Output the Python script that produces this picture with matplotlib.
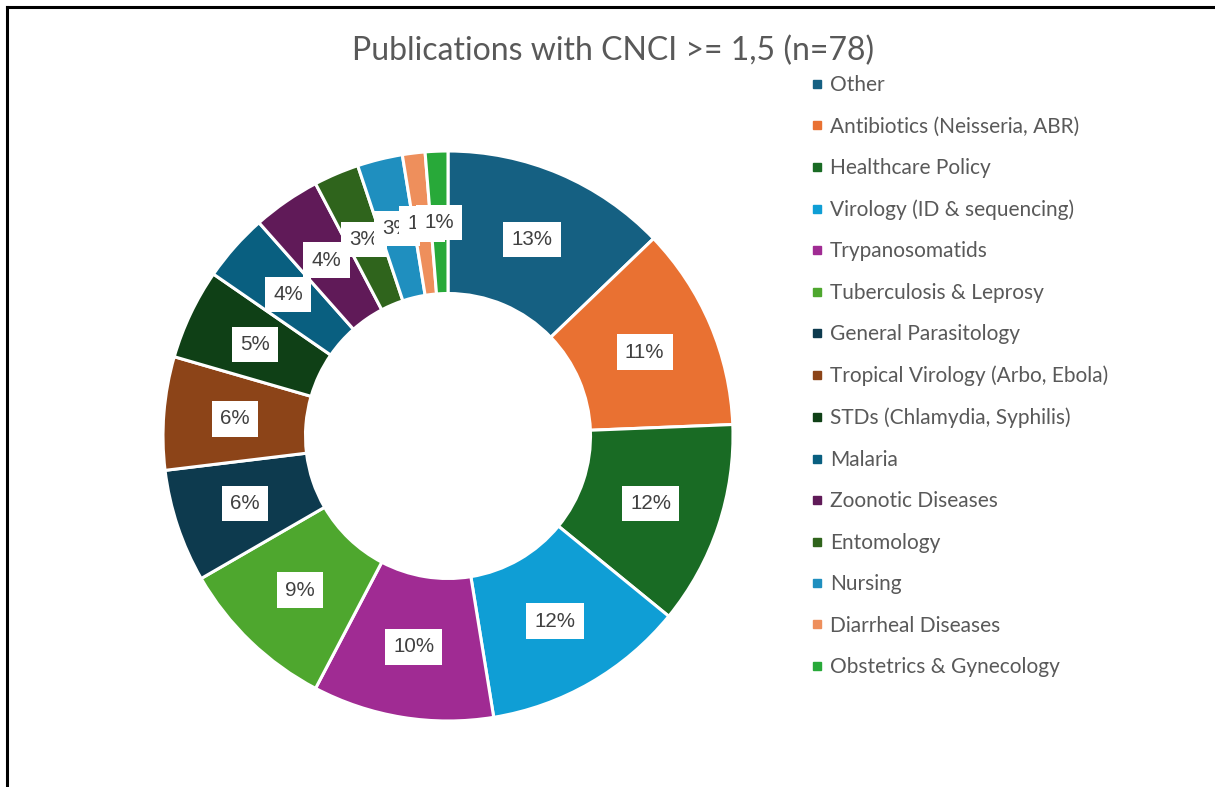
import matplotlib
matplotlib.use("Agg")
import matplotlib.pyplot as plt
from matplotlib.lines import Line2D
import numpy as np

title = "Publications with CNCI >= 1,5 (n=78)"
categories = ["Other", "Antibiotics (Neisseria, ABR)", "Healthcare Policy",
              "Virology (ID & sequencing)", "Trypanosomatids", "Tuberculosis & Leprosy",
              "General Parasitology", "Tropical Virology (Arbo, Ebola)",
              "STDs (Chlamydia, Syphilis)", "Malaria", "Zoonotic Diseases",
              "Entomology", "Nursing", "Diarrheal Diseases", "Obstetrics & Gynecology"]
counts = [10, 9, 9, 9, 8, 7, 5, 5, 4, 3, 3, 2, 2, 1, 1]
pct_labels = ["13%", "11%", "12%", "12%", "10%", "9%", "6%", "6%", "5%",
              "4%", "4%", "3%", "3%", "1%", "1%"]

colors = ["#156082", "#E97132", "#196B24", "#0F9ED5", "#A02B93", "#4EA72E",
          "#0D3A4E", "#8C4418", "#0F4016", "#095F80", "#601A58", "#2F641C",
          "#1F8FBF", "#EE8F5C", "#28A939"]

W, H = 1215, 787
fig = plt.figure(figsize=(W / 100, H / 100), dpi=100)
fig.patch.set_facecolor("white")

# frame lines (top and left visible)
fig.add_artist(Line2D([7 / W, 1.0], [1 - 7 / H, 1 - 7 / H], color="black", lw=2.2,
                      transform=fig.transFigure))
fig.add_artist(Line2D([7 / W, 7 / W], [0, 1 - 7 / H], color="black", lw=2.2,
                      transform=fig.transFigure))

cx, cy, R = 448, 436, 285
ax = fig.add_axes([(cx - R) / W, (H - cy - R) / H, 2 * R / W, 2 * R / H])
wedges, _ = ax.pie(counts, colors=colors, startangle=90, counterclock=False,
                   radius=1.0,
                   wedgeprops=dict(width=0.5, edgecolor="white", linewidth=2.2))
ax.set_xlim(-1, 1)
ax.set_ylim(-1, 1)
ax.axis("off")

for i, (w, lab) in enumerate(zip(wedges, pct_labels)):
    ang = np.deg2rad((w.theta1 + w.theta2) / 2)
    x, y = 0.75 * np.cos(ang), 0.75 * np.sin(ang)
    ax.text(x, y, lab, ha="center", va="center", fontsize=14.8,
            family=["Liberation Sans", "DejaVu Sans"], color="#404040", zorder=10 + i,
            bbox=dict(boxstyle="square,pad=0.4", fc="white", ec="none"))

fig.text(613 / W, 1 - 51 / H, title, ha="center", va="center", fontsize=23,
         family=["Lato", "DejaVu Sans"], color="#595959")

handles = [Line2D([], [], marker="s", linestyle="none", markersize=6.3,
                  markerfacecolor=c, markeredgecolor=c) for c in colors]
leg = fig.legend(handles, categories, loc="upper left",
                 bbox_to_anchor=(811 / W, 1 - 75 / H), frameon=False,
                 prop=dict(family=["Lato", "DejaVu Sans"], size=15),
                 labelcolor="#595959", handlelength=0.6, handletextpad=0.3,
                 labelspacing=1.03, borderaxespad=0, borderpad=0)

fig.savefig("out.png", dpi=100, facecolor="white")
